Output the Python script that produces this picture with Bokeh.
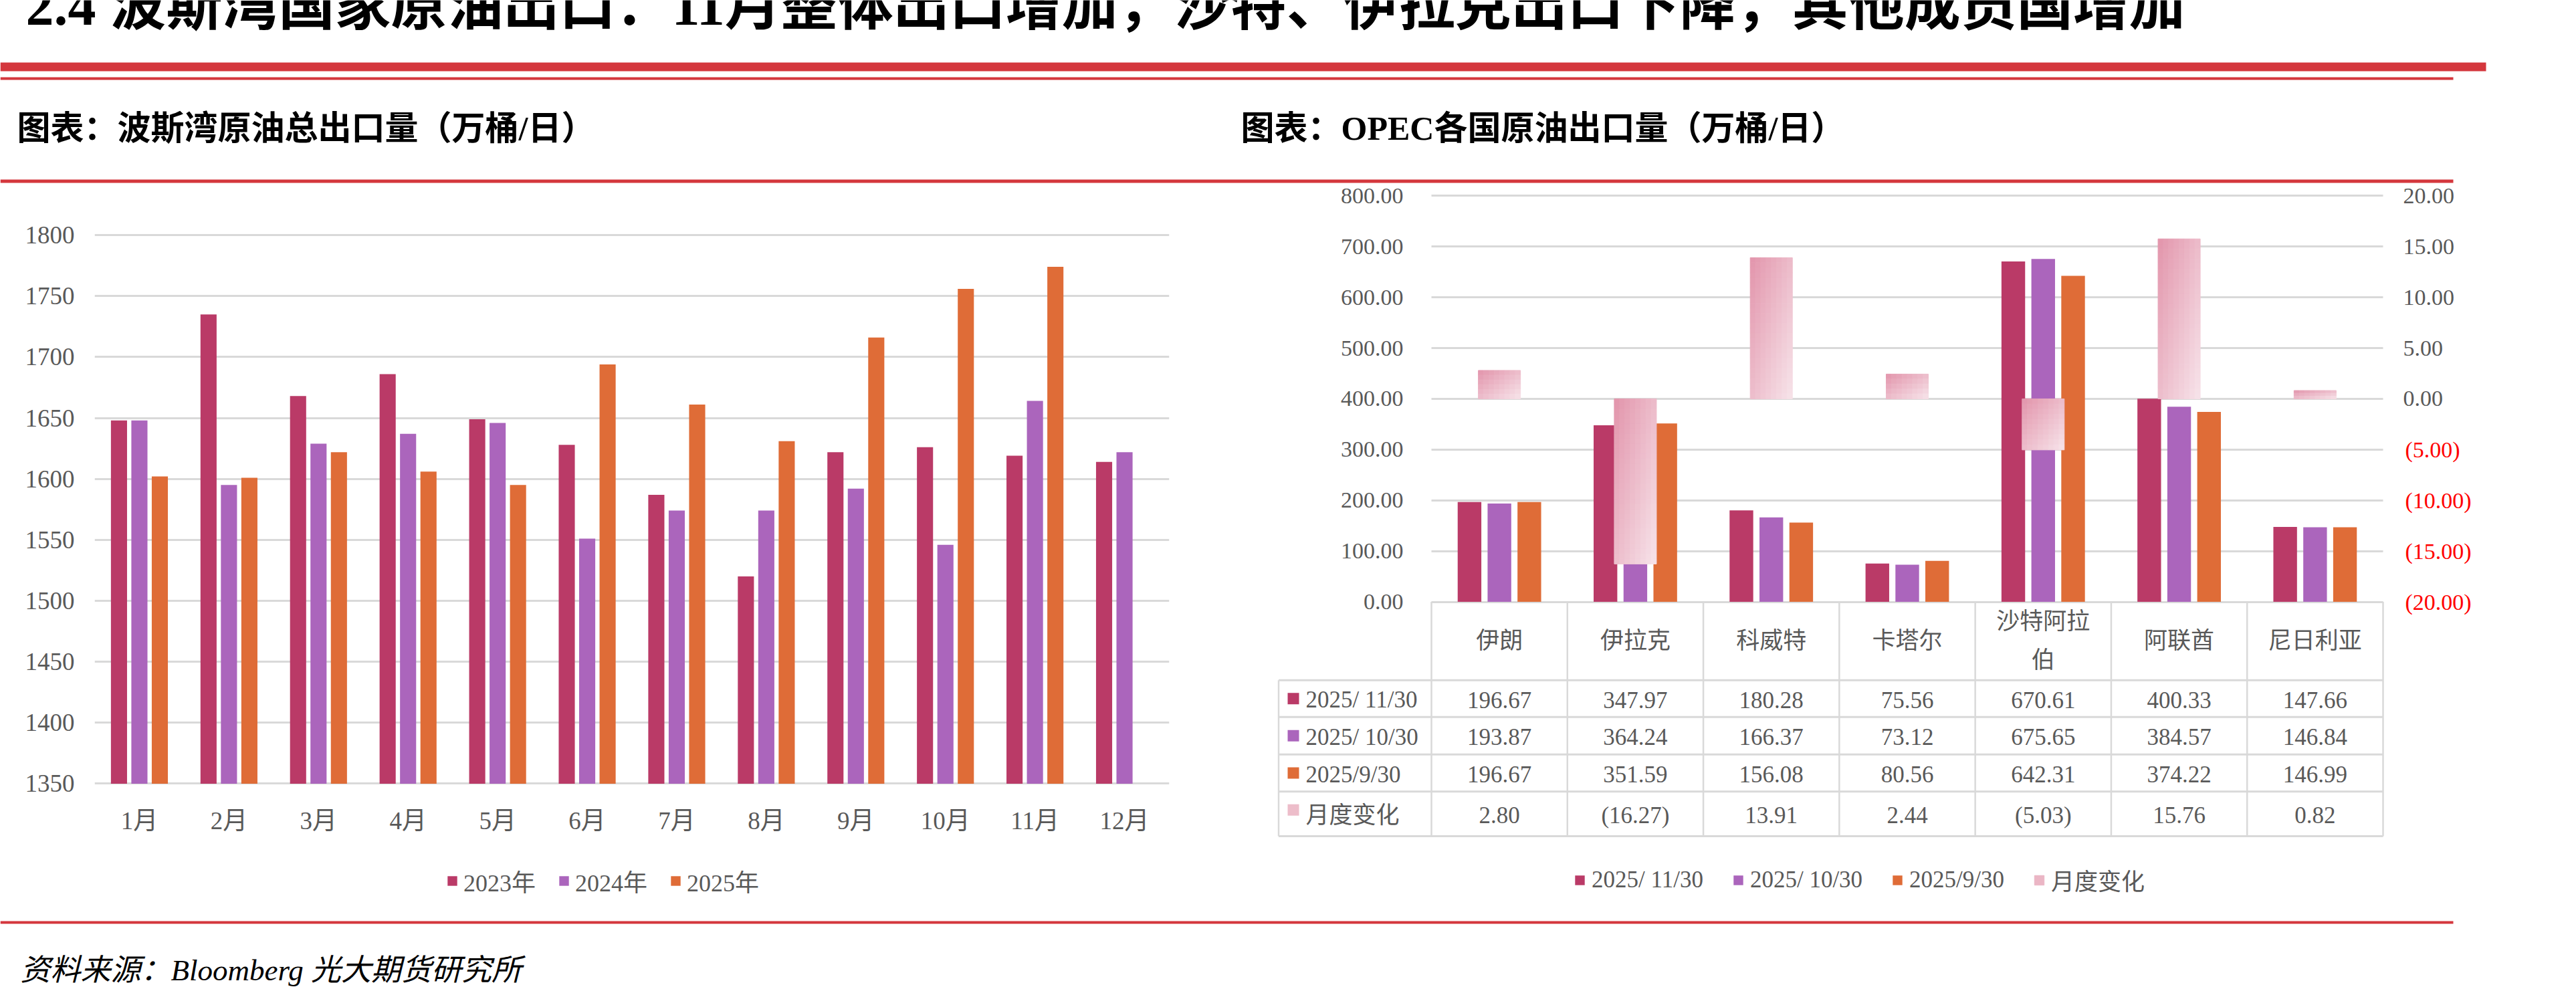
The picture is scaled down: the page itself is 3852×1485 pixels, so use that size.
import numpy as np
from bokeh.plotting import figure
from bokeh.models import (Range1d, FactorRange, LinearAxis, FixedTicker, NumeralTickFormatter,
                          Grid, Legend, LegendItem, ColumnDataSource)
from bokeh.layouts import column, row
from bokeh.transform import dodge
from bokeh.core.properties import value
from bokeh.embed import file_html
from bokeh.resources import INLINE

# ------------------------------------------------------------------ data
TITLE = "2.4 波斯湾国家原油出口：11月整体出口增加，沙特、伊拉克出口下降，其他成员国增加"
SUB_LEFT = "图表：波斯湾原油总出口量（万桶/日）"
SUB_RIGHT = "图表：OPEC各国原油出口量（万桶/日）"
SOURCE = "资料来源：Bloomberg 光大期货研究所"

MONTHS = ["1月", "2月", "3月", "4月", "5月", "6月", "7月", "8月", "9月", "10月", "11月", "12月"]
YEARS = ["2023年", "2024年", "2025年"]
EXPORT_2023 = [1648, 1735, 1668, 1686, 1649, 1628, 1587, 1520, 1622, 1626, 1619, 1614]
EXPORT_2024 = [1648, 1595, 1629, 1637, 1646, 1551, 1574, 1574, 1592, 1546, 1664, 1622]
EXPORT_2025 = [1602, 1601, 1622, 1606, 1595, 1694, 1661, 1631, 1716, 1756, 1774, float("nan")]
LEFT_TICKS = [1350, 1400, 1450, 1500, 1550, 1600, 1650, 1700, 1750, 1800]

COUNTRIES = ["伊朗", "伊拉克", "科威特", "卡塔尔", "沙特阿拉伯", "阿联酋", "尼日利亚"]
DATES = ["2025/ 11/30", "2025/ 10/30", "2025/9/30"]
CHANGE_NAME = "月度变化"
OPEC_NOV = [196.67, 347.97, 180.28, 75.56, 670.61, 400.33, 147.66]
OPEC_OCT = [193.87, 364.24, 166.37, 73.12, 675.65, 384.57, 146.84]
OPEC_SEP = [196.67, 351.59, 156.08, 80.56, 642.31, 374.22, 146.99]
MONTHLY_CHANGE = [2.80, -16.27, 13.91, 2.44, -5.03, 15.76, 0.82]
RIGHT_TICKS = [0, 100, 200, 300, 400, 500, 600, 700, 800]
CHANGE_TICKS_POS = [0, 5, 10, 15, 20]
CHANGE_TICKS_NEG = [-20, -15, -10, -5]

# ------------------------------------------------------------------ style
FONT = "Liberation Serif, Noto Sans CJK SC"
TXT = "#595959"
GRIDC = "#D9D9D9"
RED = "#D4373D"
C_A, C_B, C_C = "#BA3A67", "#AB65BC", "#DF6C37"
G0 = (0xE2, 0x94, 0xAB)
G1 = (0xF7, 0xE4, 0xEA)
PINK = "#EDBDCA"

TOP_PAGE, BOT_PAGE = 274, 1360          # page rows covered by the two charts
FRAME_TOP, FRAME_BOT = 285, 1360        # shared frame rows of both charts


def base_fig(w, h, xr, yr, **kw):
    f = figure(width=w, height=h, x_range=xr, y_range=yr, output_backend="svg",
               toolbar_location=None, **kw)
    f.outline_line_color = None
    f.background_fill_color = "white"
    f.border_fill_color = "white"
    return f


def fmt(v):
    return f"({abs(v):.2f})" if v < 0 else f"{v:.2f}"


def grad(f):
    return "#%02X%02X%02X" % tuple(int(round(a + (b - a) * f)) for a, b in zip(G0, G1))


# ------------------------------------------------------------------ header
hf = base_fig(3852, TOP_PAGE, Range1d(0, 3852), Range1d(TOP_PAGE, 0),
              x_axis_type=None, y_axis_type=None, min_border=0)
hf.quad(left=[0, 0, 0], right=[3717, 3668, 3668], top=[93, 115, 268], bottom=[106, 119, 273],
        fill_color=RED, line_color=None)
hf.text(x=[38], y=[8], text=[TITLE], text_font=value(FONT), text_font_size="84px",
        text_font_style="bold", text_color="black", text_baseline="middle")
hf.text(x=[25, 1855], y=[191, 191], text=[SUB_LEFT, SUB_RIGHT], text_font=value(FONT),
        text_font_size="50px", text_font_style="bold", text_color="black",
        text_baseline="middle")

# ------------------------------------------------------------------ left chart
LY_PX = (1171.4 - 351.2) / 450.0            # px per unit
l_end = 1800 + (351.2 - FRAME_TOP) / LY_PX
l_start = 1350 - (FRAME_BOT - 1171.4) / LY_PX
lf = base_fig(1800, BOT_PAGE - TOP_PAGE, FactorRange(factors=MONTHS), Range1d(l_start, l_end),
              min_border_left=141, min_border_right=52,
              min_border_top=FRAME_TOP - TOP_PAGE, min_border_bottom=BOT_PAGE - FRAME_BOT)
src = ColumnDataSource(dict(month=MONTHS, a=EXPORT_2023, b=EXPORT_2024, c=EXPORT_2025))
rs = []
for col, off, colr in (("a", -0.228, C_A), ("b", 0.0, C_B), ("c", 0.228, C_C)):
    rs.append(lf.vbar(x=dodge("month", off, range=lf.x_range), top=col, bottom=LEFT_TICKS[0],
                      width=0.18, source=src, fill_color=colr, line_color=None))
lt = FixedTicker(ticks=LEFT_TICKS)
lf.yaxis.ticker = lt
lf.ygrid.ticker = lt
lf.ygrid.grid_line_color = GRIDC
lf.ygrid.grid_line_width = 3
lf.xgrid.visible = False
for ax in (lf.xaxis, lf.yaxis):
    ax.axis_line_color = None
    ax.major_tick_line_color = None
    ax.minor_tick_line_color = None
    ax.major_tick_out = 0
    ax.major_tick_in = 0
    ax.major_label_text_font = FONT
    ax.major_label_text_font_size = "37px"
    ax.major_label_text_color = TXT
lf.yaxis.major_label_standoff = 30
lf.xaxis.major_label_standoff = -(FRAME_BOT - 1206)
lleg = Legend(items=[LegendItem(label=YEARS[i], renderers=[rs[i]]) for i in range(3)],
              location=(526, 17), orientation="horizontal", padding=0, spacing=33,
              label_standoff=8, glyph_width=18, glyph_height=18, label_height=36,
              label_text_font=FONT, label_text_font_size="36px", label_text_color=TXT,
              border_line_color=None, background_fill_alpha=0)
lf.add_layout(lleg)

# ------------------------------------------------------------------ right chart
XU = (3563 - 2140) / 7.0


def px2x(px):
    return (px - 2140) / XU


YU = (899.5 - 292.4) / 800.0
ys, ye = -(FRAME_BOT - 899.5) / YU, (899.5 - FRAME_TOP) / YU
rf = base_fig(2052, BOT_PAGE - TOP_PAGE, Range1d(px2x(1906), px2x(3568)), Range1d(ys, ye),
              x_axis_type=None, y_axis_type=None,
              min_border_left=106, min_border_right=284,
              min_border_top=FRAME_TOP - TOP_PAGE, min_border_bottom=BOT_PAGE - FRAME_BOT)
rf.extra_y_ranges = {"chg": Range1d((ys - 400) / 20.0, (ye - 400) / 20.0),
                     "tbl": Range1d(FRAME_BOT - 899.5, FRAME_TOP - 899.5)}

idx = np.arange(len(COUNTRIES)) + 0.5
if "cross_bounds" in Grid.properties():
    g = Grid(dimension=1, ticker=FixedTicker(ticks=RIGHT_TICKS), cross_bounds=(0, 7),
             grid_line_color=GRIDC, grid_line_width=3)
    rf.add_layout(g)
else:
    rf.segment(x0=[0] * len(RIGHT_TICKS), x1=[7] * len(RIGHT_TICKS), y0=RIGHT_TICKS,
               y1=RIGHT_TICKS, line_color=GRIDC, line_width=3, level="underlay")

rsrc = ColumnDataSource(dict(x=idx, nov=OPEC_NOV, oct=OPEC_OCT, sep=OPEC_SEP))
rr = []
for col, off, colr in (("nov", -0.22, C_A), ("oct", 0.0, C_B), ("sep", 0.22, C_C)):
    rr.append(rf.vbar(x=dodge("x", off), top=col, bottom=0, width=0.174, source=rsrc,
                      fill_color=colr, line_color=None))

# gradient monthly-change bars
L, R, T, B, C, F = [], [], [], [], [], []
for i, v in enumerate(MONTHLY_CHANGE):
    xc, w, nx = i + 0.5, 0.31, 8
    ny = max(3, int(round(abs(v) * 2)))
    top_v, bot_v = max(v, 0.0), min(v, 0.0)
    for a in range(nx):
        for b in range(ny):
            L.append(xc - w / 2 + w * a / nx)
            R.append(xc - w / 2 + w * (a + 1) / nx)
            T.append(top_v - (top_v - bot_v) * b / ny)
            B.append(top_v - (top_v - bot_v) * (b + 1) / ny)
            f = ((a + 0.5) / nx + (b + 0.5) / ny) / 2
            F.append(f)
            C.append(grad(f))
csrc = ColumnDataSource(dict(l=L, r=R, t=T, b=B, c=C))
rchg = rf.quad(left="l", right="r", top="t", bottom="b", fill_color="c", line_color="c",
               line_width=1, source=csrc, y_range_name="chg")
mid_idx = int(np.argmin(np.abs(np.array(F) - 0.42)))

# axes
axl = LinearAxis(ticker=FixedTicker(ticks=RIGHT_TICKS), formatter=NumeralTickFormatter(format="0.00"))
axp = LinearAxis(ticker=FixedTicker(ticks=CHANGE_TICKS_POS), y_range_name="chg",
                 formatter=NumeralTickFormatter(format="0.00"))
axn = LinearAxis(ticker=FixedTicker(ticks=CHANGE_TICKS_NEG), y_range_name="chg",
                 formatter=NumeralTickFormatter(format="(0.00)"))
for ax in (axl, axp, axn):
    ax.axis_line_color = None
    ax.major_tick_line_color = None
    ax.minor_tick_line_color = None
    ax.major_tick_out = 0
    ax.major_tick_in = 0
    ax.major_label_text_font = FONT
    ax.major_label_text_font_size = "34px"
    ax.major_label_text_color = TXT
axn.major_label_text_color = "#FF0000"
axl.major_label_standoff = -(2098 - 1906)
axp.major_label_standoff = 25
axn.major_label_standoff = -77
rf.add_layout(axl, "left")
rf.add_layout(axp, "right")
rf.add_layout(axn, "right")

# table
HDR_B = 117.2
ROW_B = [172.2, 228.2, 283.8, 350.5]
ROW_T = [HDR_B] + ROW_B[:-1]
ROW_C = [(a + b) / 2 + 2 for a, b in zip(ROW_T, ROW_B)]
XL = px2x(1911.5)
hy = [HDR_B] + ROW_B
rf.segment(x0=[XL] * len(hy), x1=[7] * len(hy), y0=hy, y1=hy, line_color=GRIDC,
           line_width=3, y_range_name="tbl")
vx = [XL] + list(range(8))
vy0 = [HDR_B] + [0] * 8
rf.segment(x0=vx, x1=vx, y0=vy0, y1=[ROW_B[-1]] * len(vx), line_color=GRIDC,
           line_width=2.5, y_range_name="tbl")

hdr = [c if len(c) <= 4 else c[:4] + "\n" + c[4:] for c in COUNTRIES]
rf.text(x=idx, y=[58.5] * len(idx), text=hdr, y_range_name="tbl", text_font=value(FONT),
        text_font_size="35px", text_color=TXT, text_align="center", text_baseline="middle",
        text_line_height=1.5)

rows = [OPEC_NOV, OPEC_OCT, OPEC_SEP, MONTHLY_CHANGE]
tx, ty, tt = [], [], []
for r_i, vals in enumerate(rows):
    for c_i, v in enumerate(vals):
        tx.append(idx[c_i])
        ty.append(ROW_C[r_i])
        tt.append(fmt(v))
rf.text(x=tx, y=ty, text=tt, y_range_name="tbl", text_font=value(FONT), text_font_size="35px",
        text_color=TXT, text_align="center", text_baseline="middle")

row_names = DATES + [CHANGE_NAME]
rf.scatter(x=[px2x(1933.5)] * 4, y=[ROW_C[0] - 2, ROW_C[1] - 2, ROW_C[2] - 2, ROW_C[3] - 8],
           marker="square", size=17, fill_color=[C_A, C_B, C_C, PINK], line_color=None,
           y_range_name="tbl")
rf.text(x=[px2x(1952)] * 4, y=ROW_C, text=row_names, y_range_name="tbl",
        text_font=value(FONT), text_font_size="35px", text_color=TXT, text_align="left",
        text_baseline="middle")

rleg = Legend(items=[LegendItem(label=DATES[0], renderers=[rr[0]]),
                     LegendItem(label=DATES[1], renderers=[rr[1]]),
                     LegendItem(label=DATES[2], renderers=[rr[2]]),
                     LegendItem(label=CHANGE_NAME, renderers=[rchg], index=mid_idx)],
              location=(447, 19), orientation="horizontal", padding=0, spacing=43,
              label_standoff=9, glyph_width=18, glyph_height=18, label_height=36,
              label_text_font=FONT, label_text_font_size="35px", label_text_color=TXT,
              border_line_color=None, background_fill_alpha=0)
rf.add_layout(rleg)

# ------------------------------------------------------------------ footer
FOOT_H = 1485 - BOT_PAGE
ff = base_fig(3852, FOOT_H, Range1d(0, 3852), Range1d(FOOT_H, 0),
              x_axis_type=None, y_axis_type=None, min_border=0)
ff.quad(left=[0], right=[3668], top=[17], bottom=[21], fill_color=RED, line_color=None)
ff.text(x=[30], y=[90], text=[SOURCE], text_font=value(FONT), text_font_size="45px",
        text_font_style="italic", text_color="black", text_baseline="middle")

layout = column(hf, row(lf, rf), ff)
open("out.html", "w").write(file_html(layout, INLINE))
